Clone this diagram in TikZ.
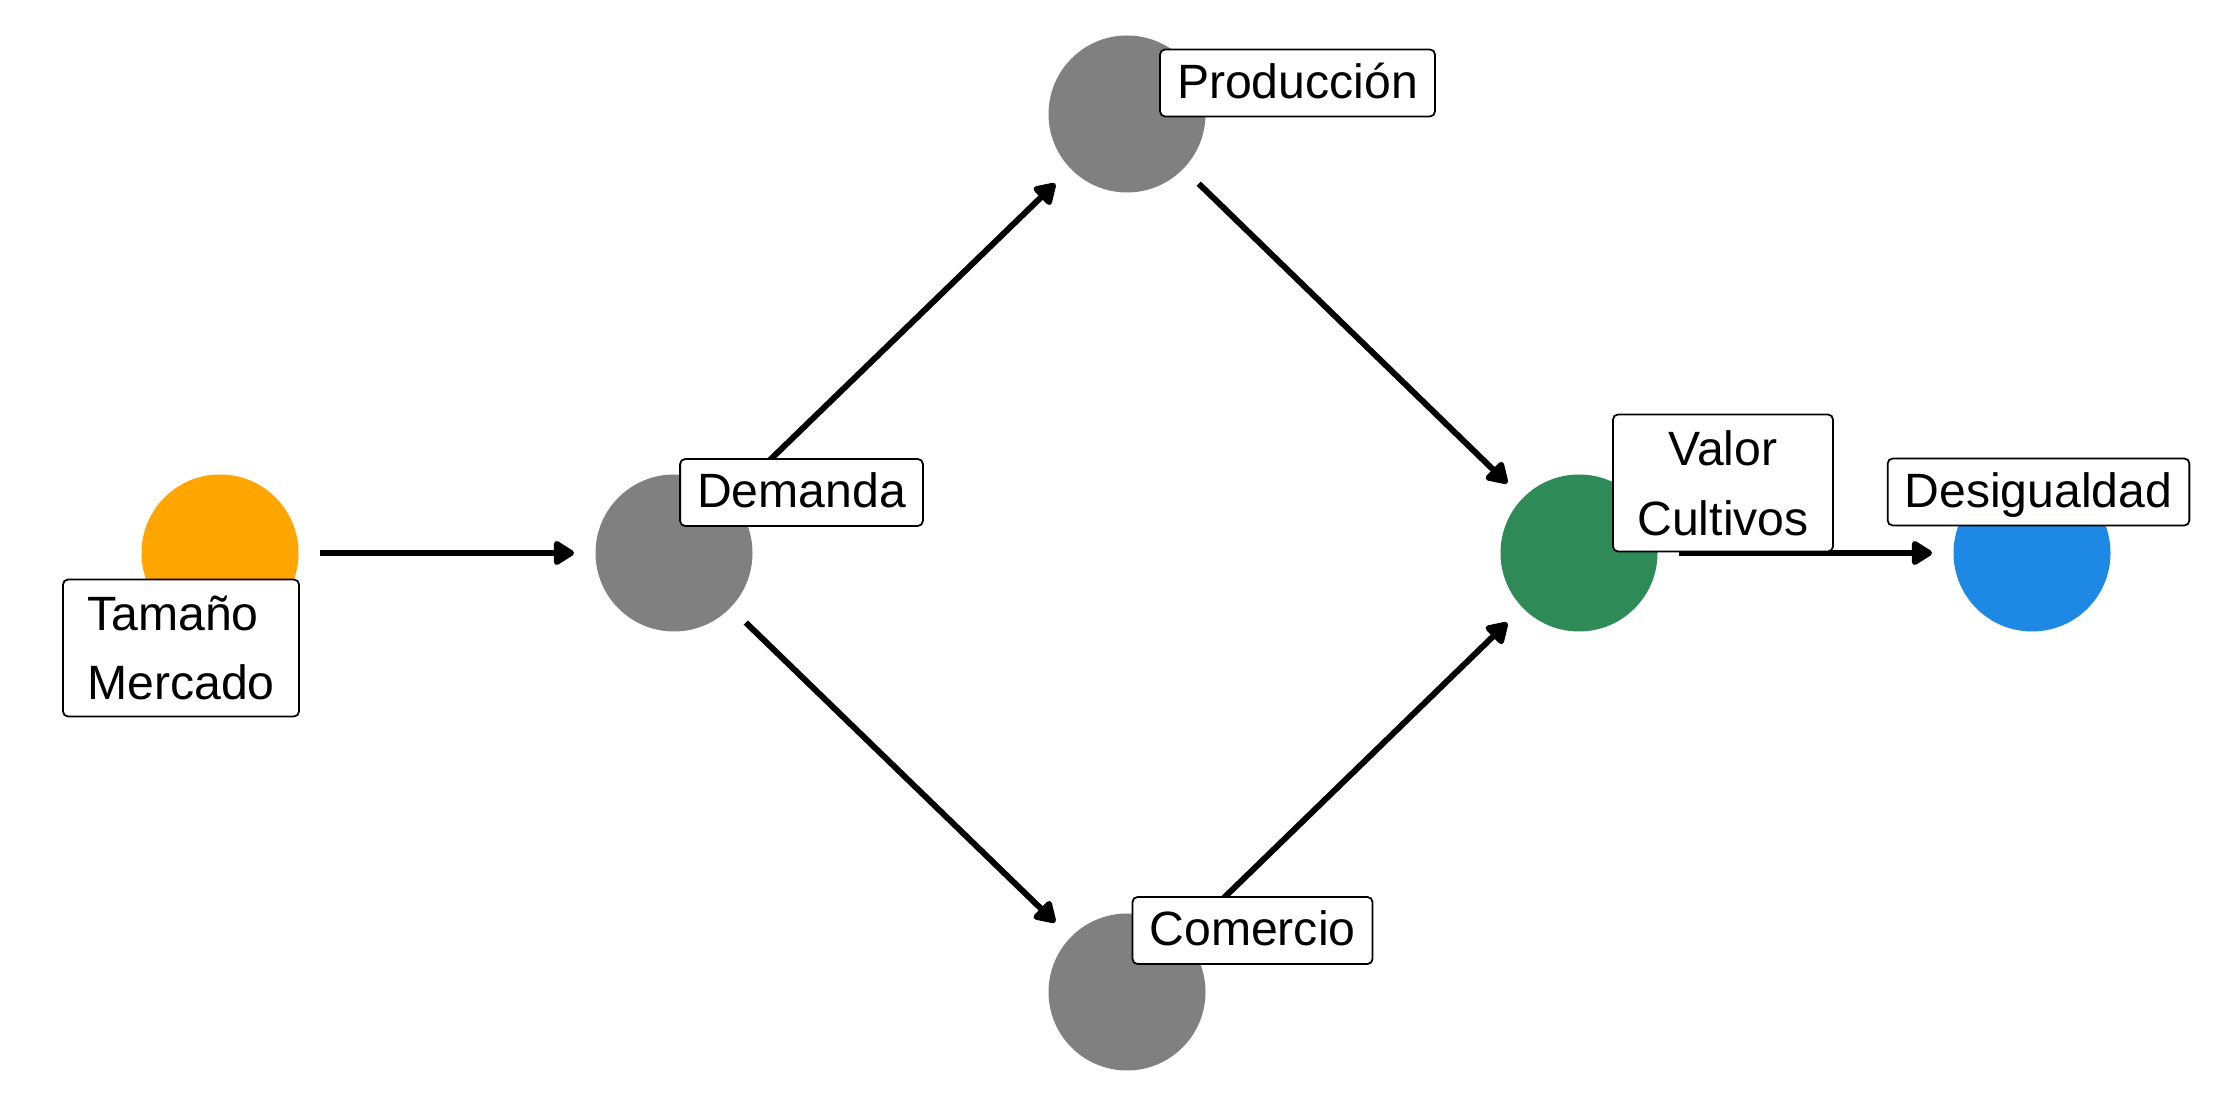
\documentclass[tikz,border=0pt]{standalone}
\usepackage{fontspec}
\setmainfont{Liberation Sans}
\usetikzlibrary{arrows.meta, positioning, calc}

\definecolor{tamcol}{HTML}{FFA500}
\definecolor{midcol}{HTML}{808080}
\definecolor{valcol}{HTML}{2E8B57}
\definecolor{descol}{HTML}{1E88E5}

\begin{document}
\begin{tikzpicture}[
    var/.style={circle, minimum size=1.57cm, inner sep=0pt, outer sep=0.215cm},
    lbl/.style={draw, fill=white, rounded corners=0.05cm, line width=0.5pt, inner xsep=0.17cm, inner ysep=0.1cm, font=\fontsize{13.7pt}{19.9pt}\selectfont},
    one/.style={lbl, text height=0.39cm, text depth=0.08cm},
    two/.style={lbl, minimum height=1.37cm},
    arr/.style={-{Triangle[length=0.23cm, width=0.27cm, round]}, line width=0.06cm},
]
\useasboundingbox (0,0) rectangle (22.4,11.2);

\node[var, fill=tamcol] (tam) at (2.20, 5.67) {};
\node[var, fill=midcol] (dem) at (6.74, 5.67) {};
\node[var, fill=midcol] (prod) at (11.27, 10.06) {};
\node[var, fill=midcol] (com) at (11.27, 1.28) {};
\node[var, fill=valcol] (val) at (15.79, 5.67) {};
\node[var, fill=descol] (des) at (20.32, 5.67) {};

\draw[arr] (tam) -- (dem);
\draw[arr] (dem) -- (prod);
\draw[arr] (dem) -- (com);
\draw[arr] (prod) -- (val);
\draw[arr] (com) -- (val);
\draw[arr] (val) -- (des);

% labels sit on top of circles and edges
\node[two, align=left, minimum width=2.36cm] (tamL) at (1.81, 4.72) {Tamaño\\Mercado};
\node[one] (demL) at (8.015, 6.275) {Demanda};
\node[one] (prodL) at (12.975, 10.37) {Producción};
\node[one] (comL) at (12.525, 1.895) {Comercio};
\node[two, align=center, minimum width=2.20cm] (valL) at (17.23, 6.37) {Valor\\Cultivos};
\node[one] (desL) at (20.385, 6.28) {Desigualdad};

\end{tikzpicture}
\end{document}
